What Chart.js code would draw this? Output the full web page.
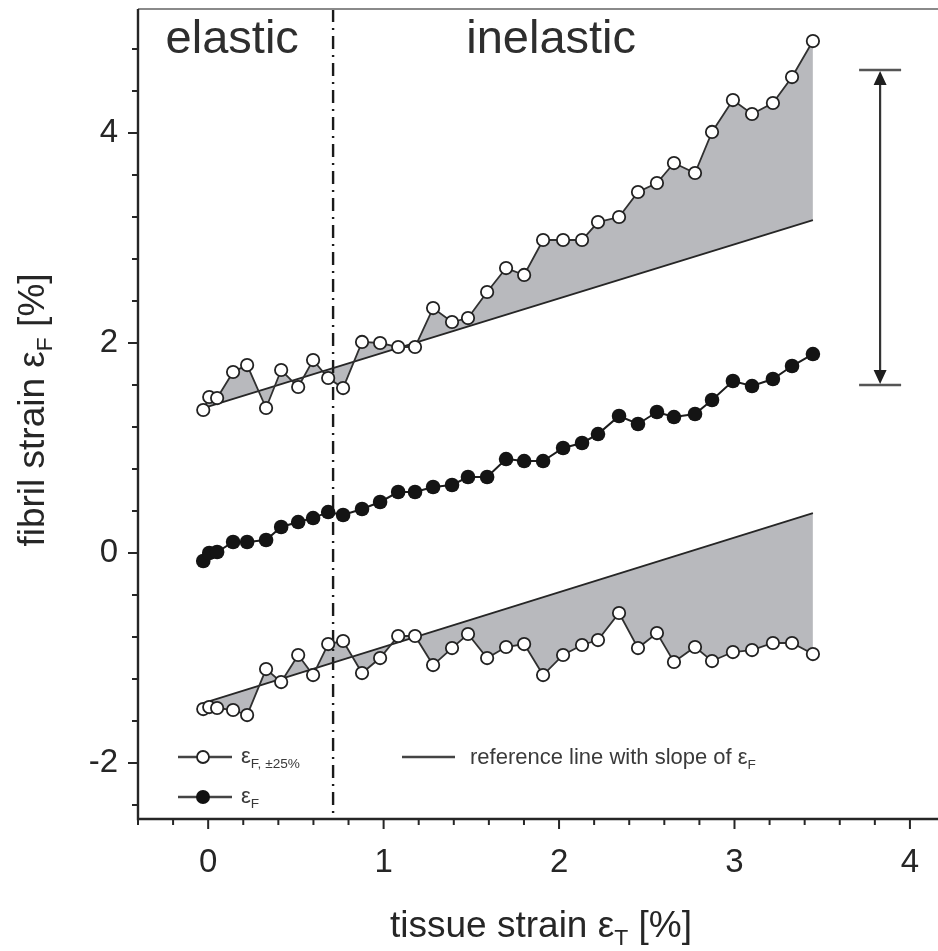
<!DOCTYPE html>
<html>
<head>
<meta charset="utf-8">
<script src="https://cdn.jsdelivr.net/npm/chart.js@4.4.1/dist/chart.umd.min.js"></script>
<style>
  html, body { margin: 0; padding: 0; background: #ffffff; }
  canvas { display: block; }
</style>
</head>
<body>
<canvas id="c" width="938" height="951"></canvas>
<script>
// tissue strain εT [%] at each measurement step (shared by all series)
const tissueStrain = [-0.028, 0.006, 0.051, 0.142, 0.222, 0.330, 0.416, 0.513, 0.598, 0.684,
  0.769, 0.877, 0.980, 1.083, 1.179, 1.282, 1.390, 1.481, 1.590, 1.698,
  1.801, 1.909, 2.023, 2.131, 2.222, 2.342, 2.450, 2.558, 2.655, 2.775,
  2.872, 2.991, 3.100, 3.219, 3.328, 3.447];

// fibril strain εF [%]
const fibrilStrain = [-0.076, 0.000, 0.010, 0.105, 0.105, 0.124, 0.248, 0.295, 0.333, 0.390,
  0.362, 0.419, 0.486, 0.581, 0.581, 0.629, 0.648, 0.724, 0.724, 0.895,
  0.876, 0.876, 1.000, 1.048, 1.133, 1.305, 1.229, 1.343, 1.295, 1.324,
  1.457, 1.638, 1.590, 1.657, 1.781, 1.895];

// upper quartile band εF,±25% (shifted up)
const fibrilUpper = [1.362, 1.486, 1.476, 1.724, 1.790, 1.381, 1.743, 1.581, 1.838, 1.667,
  1.571, 2.010, 2.000, 1.962, 1.962, 2.333, 2.200, 2.238, 2.486, 2.714,
  2.648, 2.981, 2.981, 2.981, 3.152, 3.200, 3.438, 3.524, 3.714, 3.619,
  4.010, 4.314, 4.181, 4.286, 4.533, 4.876];

// lower quartile band εF,±25% (shifted down)
const fibrilLower = [-1.486, -1.467, -1.476, -1.495, -1.543, -1.105, -1.229, -0.971, -1.162, -0.867,
  -0.838, -1.143, -1.000, -0.790, -0.790, -1.067, -0.905, -0.771, -1.000, -0.895,
  -0.867, -1.162, -0.971, -0.876, -0.829, -0.571, -0.905, -0.762, -1.038, -0.895,
  -1.029, -0.943, -0.924, -0.857, -0.857, -0.962];

// reference lines with the slope of εF
const refX = [-0.028, 3.447];
const refUpperY = [1.38, 3.17];
const refLowerY = [-1.43, 0.38];

// axis ticks
const xTickLabels = [0, 1, 2, 3, 4];
const yTickLabels = [-2, 0, 2, 4];
const xMinorStep = 0.2;
const yMinorStep = 0.4;

// elastic / inelastic boundary and the spread bar on the right
const elasticLimit = 0.712;
const spreadBar = { x: 3.83, from: 1.6, to: 4.6 };
const regionLabels = [
  { text: 'elastic', x: 0.137, y: 4.76 },
  { text: 'inelastic', x: 1.955, y: 4.76 }
];

const FONT = '"Liberation Sans", Arial, Helvetica, sans-serif';
const INK = '#262626';
const SHADE = '#b8b9bd';

function toPoints(xs, ys) {
  return xs.map((x, i) => ({ x: x, y: ys[i] }));
}

// draw a run of text pieces, some of them as subscripts
function richText(ctx, pieces, x, y, size, align) {
  const items = pieces.map(p => {
    const s = p.sub ? size * 0.62 : size;
    ctx.font = s + 'px ' + FONT;
    return { t: p.t, s: s, dy: p.sub ? size * 0.22 : 0, w: ctx.measureText(p.t).width };
  });
  const total = items.reduce((a, b) => a + b.w, 0);
  let cx = align === 'center' ? x - total / 2 : x;
  ctx.textAlign = 'left';
  ctx.textBaseline = 'alphabetic';
  for (const it of items) {
    ctx.font = it.s + 'px ' + FONT;
    ctx.fillText(it.t, cx, y + it.dy);
    cx += it.w;
  }
}

const decorations = {
  id: 'decorations',
  beforeDatasetsDraw(chart) {
    const { ctx, chartArea: a, scales: { x } } = chart;
    const px = x.getPixelForValue(elasticLimit);
    ctx.save();
    ctx.strokeStyle = '#1a1a1a';
    ctx.lineWidth = 2.4;
    ctx.setLineDash([13, 6, 2, 6]);
    ctx.beginPath();
    ctx.moveTo(px, a.top);
    ctx.lineTo(px, a.bottom);
    ctx.stroke();
    ctx.restore();
  },
  afterDraw(chart) {
    const { ctx, chartArea: a, scales: { x, y } } = chart;
    ctx.save();

    // frame: gray top edge, dark left and bottom axes
    ctx.strokeStyle = '#8a8a8a';
    ctx.lineWidth = 2;
    ctx.beginPath();
    ctx.moveTo(a.left, a.top);
    ctx.lineTo(a.right, a.top);
    ctx.stroke();

    ctx.strokeStyle = INK;
    ctx.lineWidth = 2.4;
    ctx.beginPath();
    ctx.moveTo(a.left, a.top);
    ctx.lineTo(a.left, a.bottom);
    ctx.lineTo(a.right, a.bottom);
    ctx.stroke();

    // tick marks (major with labels, minor in between)
    ctx.lineWidth = 2;
    ctx.beginPath();
    for (let v = Math.ceil(x.min / xMinorStep) * xMinorStep; v <= x.max + 1e-9; v += xMinorStep) {
      const r = Math.round(v * 100) / 100;
      const major = xTickLabels.some(t => Math.abs(t - r) < 1e-6);
      const p = x.getPixelForValue(r);
      ctx.moveTo(p, a.bottom);
      ctx.lineTo(p, a.bottom + (major ? 10 : 6));
    }
    for (let v = Math.ceil(y.min / yMinorStep) * yMinorStep; v <= y.max + 1e-9; v += yMinorStep) {
      const r = Math.round(v * 100) / 100;
      const major = yTickLabels.some(t => Math.abs(t - r) < 1e-6);
      const p = y.getPixelForValue(r);
      ctx.moveTo(a.left, p);
      ctx.lineTo(a.left - (major ? 10 : 6), p);
    }
    ctx.stroke();

    // region labels
    ctx.fillStyle = '#2e2e2e';
    ctx.font = '47px ' + FONT;
    ctx.textAlign = 'center';
    ctx.textBaseline = 'alphabetic';
    for (const r of regionLabels) {
      ctx.fillText(r.text, x.getPixelForValue(r.x), y.getPixelForValue(r.y));
    }

    // spread bar with arrow heads and end caps
    const bx = x.getPixelForValue(spreadBar.x);
    const top = y.getPixelForValue(spreadBar.to);
    const bot = y.getPixelForValue(spreadBar.from);
    ctx.strokeStyle = '#333333';
    ctx.lineWidth = 2.2;
    ctx.beginPath();
    ctx.moveTo(bx, top + 12);
    ctx.lineTo(bx, bot - 12);
    ctx.stroke();
    ctx.strokeStyle = '#555555';
    ctx.lineWidth = 2.6;
    ctx.beginPath();
    ctx.moveTo(bx - 21, top); ctx.lineTo(bx + 21, top);
    ctx.moveTo(bx - 21, bot); ctx.lineTo(bx + 21, bot);
    ctx.stroke();
    ctx.fillStyle = '#1f1f1f';
    ctx.beginPath();
    ctx.moveTo(bx, top + 1); ctx.lineTo(bx - 6.5, top + 15); ctx.lineTo(bx + 6.5, top + 15); ctx.closePath();
    ctx.moveTo(bx, bot - 1); ctx.lineTo(bx - 6.5, bot - 15); ctx.lineTo(bx + 6.5, bot - 15); ctx.closePath();
    ctx.fill();

    // legend
    const ly1 = 757, ly2 = 797;
    ctx.strokeStyle = '#444444';
    ctx.lineWidth = 2.6;
    ctx.beginPath();
    ctx.moveTo(178, ly1); ctx.lineTo(232, ly1);
    ctx.moveTo(178, ly2); ctx.lineTo(232, ly2);
    ctx.moveTo(402, ly1); ctx.lineTo(455, ly1);
    ctx.stroke();
    ctx.fillStyle = '#ffffff';
    ctx.strokeStyle = '#222222';
    ctx.lineWidth = 1.8;
    ctx.beginPath(); ctx.arc(203, ly1, 6, 0, Math.PI * 2); ctx.fill(); ctx.stroke();
    ctx.fillStyle = '#111111';
    ctx.beginPath(); ctx.arc(203, ly2, 7, 0, Math.PI * 2); ctx.fill();

    ctx.fillStyle = '#3a3a3a';
    richText(ctx, [{ t: 'ε' }, { t: 'F, ±25%', sub: true }], 241, ly1 + 6, 22, 'left');
    richText(ctx, [{ t: 'ε' }, { t: 'F', sub: true }], 241, ly2 + 6, 22, 'left');
    richText(ctx, [{ t: 'reference line with slope of ε' }, { t: 'F', sub: true }], 470, ly1 + 7, 22, 'left');

    // axis titles
    ctx.fillStyle = INK;
    richText(ctx, [{ t: 'tissue strain ε' }, { t: 'T', sub: true }, { t: ' [%]' }],
      541, 937, 37, 'center');
    ctx.translate(44, 410);
    ctx.rotate(-Math.PI / 2);
    richText(ctx, [{ t: 'fibril strain ε' }, { t: 'F', sub: true }, { t: ' [%]' }], 0, 0, 37, 'center');

    ctx.restore();
  }
};

const lineBase = { tension: 0, fill: false, pointHoverRadius: 0 };

new Chart(document.getElementById('c'), {
  type: 'line',
  data: {
    datasets: [
      Object.assign({}, lineBase, {
        label: 'reference upper', data: toPoints(refX, refUpperY), order: 1,
        borderColor: INK, borderWidth: 1.8, pointRadius: 0
      }),
      Object.assign({}, lineBase, {
        label: 'εF,±25% upper', data: toPoints(tissueStrain, fibrilUpper), order: 0,
        borderColor: '#303030', borderWidth: 1.8,
        pointRadius: 6.2, pointBorderWidth: 1.8, pointBackgroundColor: '#ffffff', pointBorderColor: '#222222',
        fill: 0, backgroundColor: SHADE
      }),
      Object.assign({}, lineBase, {
        label: 'reference lower', data: toPoints(refX, refLowerY), order: 1,
        borderColor: INK, borderWidth: 1.8, pointRadius: 0
      }),
      Object.assign({}, lineBase, {
        label: 'εF,±25% lower', data: toPoints(tissueStrain, fibrilLower), order: 0,
        borderColor: '#303030', borderWidth: 1.8,
        pointRadius: 6.2, pointBorderWidth: 1.8, pointBackgroundColor: '#ffffff', pointBorderColor: '#222222',
        fill: 2, backgroundColor: SHADE
      }),
      Object.assign({}, lineBase, {
        label: 'εF', data: toPoints(tissueStrain, fibrilStrain), order: 2,
        borderColor: '#1c1c1c', borderWidth: 2,
        pointRadius: 7.3, pointBorderWidth: 0, pointBackgroundColor: '#141414', pointBorderColor: '#141414'
      })
    ]
  },
  options: {
    responsive: false,
    devicePixelRatio: 1,
    animation: false,
    events: [],
    layout: { autoPadding: false, padding: { top: 9, right: 0, left: 0, bottom: 0 } },
    plugins: {
      legend: { display: false },
      tooltip: { enabled: false },
      filler: { drawTime: 'beforeDatasetsDraw' }
    },
    scales: {
      x: {
        type: 'linear', min: -0.4, max: 4.16,
        grid: { display: false, drawTicks: false },
        border: { display: false },
        afterBuildTicks: s => { s.ticks = xTickLabels.map(v => ({ value: v })); },
        afterFit: s => { s.height = 132; s.paddingLeft = 0; s.paddingRight = 0; },
        ticks: {
          autoSkip: false, maxRotation: 0, padding: 24, color: INK,
          font: { family: FONT, size: 33 },
          callback: v => String(v)
        }
      },
      y: {
        type: 'linear', min: -2.533, max: 5.181,
        grid: { display: false, drawTicks: false },
        border: { display: false },
        afterBuildTicks: s => { s.ticks = yTickLabels.map(v => ({ value: v })); },
        afterFit: s => { s.width = 138; s.paddingTop = 0; s.paddingBottom = 0; },
        ticks: {
          autoSkip: false, padding: 20, color: INK,
          font: { family: FONT, size: 33 },
          callback: v => String(v)
        }
      }
    }
  },
  plugins: [decorations]
});
</script>
</body>
</html>
